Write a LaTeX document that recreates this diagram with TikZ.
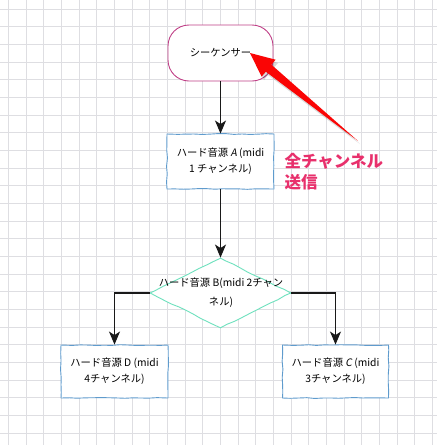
\documentclass[tikz,border=0pt]{standalone}
\usepackage{fontspec}
\setmainfont{Noto Sans CJK JP}
\newfontfamily\jpit[FakeSlant=0.18]{Noto Sans CJK JP}
\usetikzlibrary{shapes.geometric,arrows.meta,decorations.pathmorphing}
\definecolor{gridc}{RGB}{222,222,226}
\definecolor{seqc}{RGB}{192,64,135}
\definecolor{boxc}{RGB}{95,155,205}
\definecolor{diac}{RGB}{110,225,190}
\definecolor{redtxt}{RGB}{232,48,108}
\definecolor{redarr}{RGB}{250,5,5}
\begin{document}
\begin{tikzpicture}[x=1pt,y=-1pt,
  font=\fontsize{10.3}{16}\selectfont,
  wob/.style={decorate, decoration={random steps, segment length=8pt, amplitude=0.45pt}},
  procbox/.style={draw=boxc, fill=white, line width=0.9pt, wob,
    minimum width=107pt, minimum height=55pt, align=center, inner sep=2pt},
  conn/.style={draw=black!90, line width=1.1pt, -{Stealth[length=13pt,width=11pt,inset=3.5pt]}},
  notetext/.style={font=\fontsize{16.5}{21}\selectfont\bfseries, align=left, anchor=west}
]
\pgfmathsetseed{7}
% background and bounding box
\fill[white] (0,0) rectangle (437,445);
\useasboundingbox (0,0) rectangle (437,445);
% grid
\foreach \i in {0,...,24} {
  \draw[gridc, line width=0.8pt] ({8.3+17.67*\i},0) -- ({8.3+17.67*\i},445);
  \draw[gridc, line width=0.8pt] (0,{9+17.67*\i}) -- (437,{9+17.67*\i});
}
% nodes
\node[draw=seqc, fill=white, line width=0.9pt, rounded corners=21pt,
      minimum width=105pt, minimum height=56pt] (seq) at (220.5,53) {シーケンサー};
\node[procbox] (A) at (220.5,161.5) {ハード音源 {\jpit A} (midi\\1 チャンネル)};
\node[diamond, draw=diac, fill=white, line width=0.9pt, wob,
      minimum width=141pt, minimum height=70pt, inner sep=0pt] (B) at (220.5,293) {};
\node[align=center, inner sep=0pt, font=\fontsize{10.3}{19}\selectfont] (Bt) at (221,293) {ハード音源 B(midi 2チャン\\ネル)};
\node[procbox, minimum height=53pt] (D) at (114.5,371.5) {ハード音源 D (midi\\4チャンネル)};
\node[procbox, minimum height=53pt, minimum width=106pt] (C) at (335.5,371.5) {ハード音源 {\jpit C} (midi\\3チャンネル)};
% connectors
\draw[conn] (seq.south) -- (A.north);
\draw[conn] (A.south) -- (B.north);
\draw[conn] (B.west) -| (D.north);
\draw[conn] (B.east) -| (C.north);
% callout arrow
\coordinate (tip) at (250,53);
\coordinate (tail) at (358,141);
\fill[black, opacity=0.15] (252.5,56) -- (278,63) -- (273.5,68) -- (360,144) -- (268,75) -- (264,80) -- cycle;
\fill[redarr] (tip) -- (275.6,59.7) -- (271.4,64.7) -- (tail) -- (265.8,71.7) -- (261.6,76.7) -- cycle;
% note text
\node[notetext, text=redtxt] (note) at (281,171.5) {全チャンネル\\送信};
\end{tikzpicture}
\end{document}
